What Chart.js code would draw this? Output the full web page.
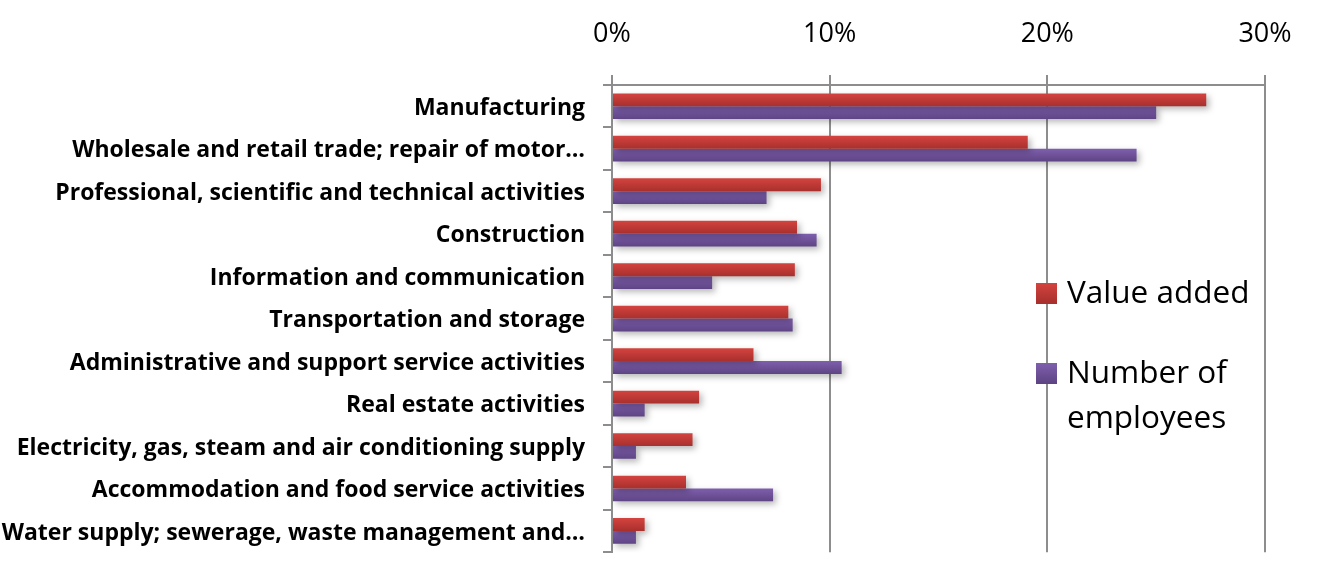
<!DOCTYPE html>
<html>
<head>
<meta charset="utf-8">
<script src="https://cdn.jsdelivr.net/npm/chart.js@4"></script>
<style>
html,body{margin:0;padding:0;background:#fff;}
#wrap{width:1324px;height:584px;position:relative;}
</style>
</head>
<body>
<div id="wrap"><canvas id="c" width="1324" height="584"></canvas></div>
<script>
const categories = [
  "Manufacturing",
  "Wholesale and retail trade; repair of motor\u2026",
  "Professional, scientific and technical activities",
  "Construction",
  "Information and communication",
  "Transportation and storage",
  "Administrative and support service activities",
  "Real estate activities",
  "Electricity, gas, steam and air conditioning supply",
  "Accommodation and food service activities",
  "Water supply; sewerage, waste management and\u2026"
];
const valueAdded = [0.273, 0.191, 0.096, 0.085, 0.084, 0.081, 0.065, 0.040, 0.037, 0.034, 0.015];
const employees  = [0.250, 0.241, 0.071, 0.094, 0.046, 0.083, 0.1055, 0.015, 0.011, 0.074, 0.011];
const seriesNames = ["Value added", ["Number of", "employees"]];
const tickValues = [0, 0.1, 0.2, 0.3];

const FONT = "'Open Sans', Lato, sans-serif";
const GRID = '#8d8d8d';
const palettes = [
  {top:'#d4433f', bottom:'#a8302d'},
  {top:'#7f5fae', bottom:'#5e4484'}
];

function barGradient(ctx, di){
  const chart = ctx.chart;
  const y = chart.scales.y;
  const p = palettes[di];
  if(!y || !chart.chartArea || ctx.dataIndex === undefined) return p.top;
  const c = y.getPixelForValue(ctx.dataIndex);
  const band = (y.bottom - y.top) / categories.length;
  const h = band * 0.605 / 2;
  const t = di === 0 ? c - h : c;
  const g = chart.ctx.createLinearGradient(0, t, 0, t + h);
  g.addColorStop(0, p.top);
  g.addColorStop(1, p.bottom);
  return g;
}

const shadowPlugin = {
  id:'shadow',
  beforeDatasetDraw(chart){
    const c = chart.ctx; c.save();
    c.shadowColor='rgba(0,0,0,0.28)'; c.shadowBlur=6; c.shadowOffsetX=3; c.shadowOffsetY=3;
  },
  afterDatasetDraw(chart){ chart.ctx.restore(); }
};

const legendPlugin = {
  id:'customLegend',
  afterDraw(chart){
    const c = chart.ctx;
    c.save();
    c.font = "31.5px " + FONT;
    c.fillStyle = '#000';
    c.textBaseline = 'middle';
    c.textAlign = 'left';
    const items = [{y:293, lines:[seriesNames[0]]}, {y:373, lines:seriesNames[1]}];
    items.forEach((it, i) => {
      const p = palettes[i];
      const g = c.createLinearGradient(0, it.y-10, 0, it.y+10);
      g.addColorStop(0, p.top); g.addColorStop(1, p.bottom);
      c.fillStyle = g;
      c.fillRect(1036, it.y-10, 21, 21);
      c.fillStyle = '#000';
      const lines = Array.isArray(it.lines) ? it.lines : [it.lines];
      lines.forEach((ln, k) => c.fillText(ln, 1067, it.y + 1 + k*45));
    });
    c.restore();
  }
};

new Chart(document.getElementById('c'), {
  type:'bar',
  data:{
    labels: categories,
    datasets:[
      {label:"Value added", data:valueAdded, backgroundColor:(ctx)=>barGradient(ctx,0)},
      {label:"Number of employees", data:employees, backgroundColor:(ctx)=>barGradient(ctx,1)}
    ]
  },
  options:{
    indexAxis:'y',
    responsive:false,
    animation:false,
    events:[],
    categoryPercentage:0.605,
    barPercentage:1.0,
    layout:{padding:{left:0, top:0, right:59, bottom:25}},
    plugins:{legend:{display:false}, tooltip:{enabled:false}},
    scales:{
      x:{
        position:'top',
        min:0, max:0.3,
        afterBuildTicks(s){ s.ticks = tickValues.map(v=>({value:v})); },
        afterFit(s){ s.height = 85; },
        ticks:{
          font:{family:FONT, size:27},
          color:'#000',
          padding:24,
          maxRotation:0,
          callback:(v)=>Math.round(v*100)+'%'
        },
        grid:{color:GRID, lineWidth:2, tickLength:10, drawTicks:true},
        border:{display:true, color:GRID, width:2}
      },
      y:{
        afterFit(s){ s.width = 612; },
        ticks:{
          font:{family:FONT, size:23, weight:'bold'},
          color:'#000',
          padding:18,
          labelOffset:2,
          autoSkip:false
        },
        grid:{drawOnChartArea:false, drawTicks:true, tickLength:9, color:GRID, lineWidth:2, offset:true},
        border:{display:true, color:GRID, width:2}
      }
    }
  },
  plugins:[shadowPlugin, legendPlugin]
});
</script>
</body>
</html>
